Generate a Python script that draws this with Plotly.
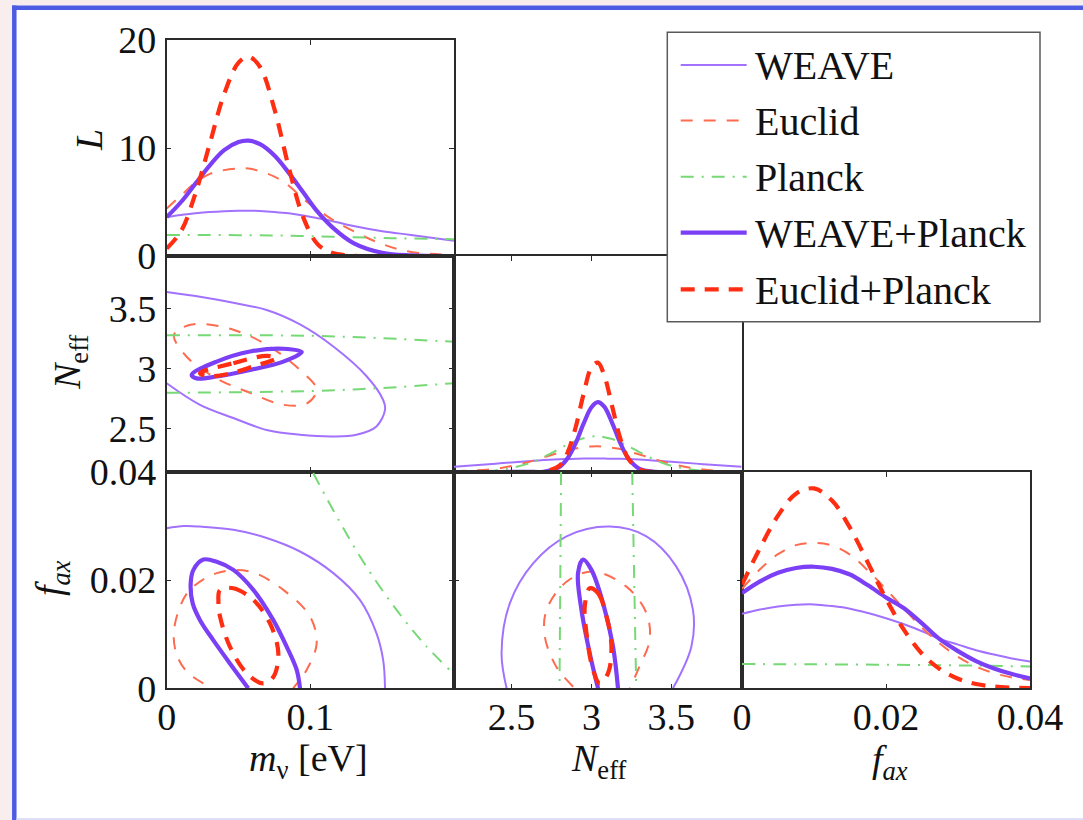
import plotly.graph_objects as go

# ---------------------------------------------------------------- data ----
# 1-D likelihood of the neutrino mass
mnu_grid = [0, 0.01, 0.02, 0.03, 0.04, 0.05, 0.057, 0.065, 0.075, 0.085,
            0.095, 0.105, 0.115, 0.13, 0.15, 0.17, 0.2]
L_mnu_weave = [3.6, 3.8, 3.95, 4.07, 4.15, 4.19, 4.2, 4.17, 4.08, 3.95,
               3.75, 3.5, 3.25, 2.78, 2.3, 1.95, 1.42]
L_mnu_euclid = [4.4, 5.6, 6.8, 7.6, 7.95, 8.1, 8.1, 7.85, 7.35, 6.5,
                5.3, 4.3, 3.4, 2.3, 1.1, 0.38, 0.1]
L_mnu_planck = [1.95, 1.95, 1.95, 1.94, 1.94, 1.93, 1.93, 1.92, 1.9, 1.88,
                1.85, 1.82, 1.79, 1.74, 1.67, 1.62, 1.55]
L_mnu_weave_planck = [3.6, 5.0, 6.7, 8.4, 9.8, 10.55, 10.68, 10.35, 9.3, 7.7,
                      5.9, 4.1, 2.7, 1.2, 0.3, 0.05, 0.0]
L_mnu_euclid_planck = [0.7, 2.3, 5.8, 10.4, 15.0, 17.9, 18.45, 17.5, 13.6, 8.2,
                       3.6, 1.1, 0.3, 0.02, 0.0, 0.0, 0.0]

# 1-D likelihood of N_eff (arbitrary normalisation)
neff_grid = [2.14, 2.4, 2.6, 2.7, 2.8, 2.85, 2.9, 2.95, 3.0, 3.04, 3.08,
             3.13, 3.18, 3.23, 3.3, 3.4, 3.5, 3.7, 3.94]
L_neff_weave = [0.19, 0.31, 0.40, 0.44, 0.47, 0.48, 0.49, 0.5, 0.5, 0.5, 0.5,
                0.49, 0.49, 0.48, 0.46, 0.42, 0.38, 0.29, 0.19]
L_neff_euclid = [0.03, 0.12, 0.36, 0.54, 0.72, 0.80, 0.87, 0.92, 0.945, 0.95,
                 0.94, 0.90, 0.85, 0.77, 0.65, 0.47, 0.30, 0.09, 0.013]
L_neff_planck = [0.0, 0.06, 0.30, 0.55, 0.86, 1.02, 1.15, 1.25, 1.31, 1.32,
                 1.29, 1.22, 1.10, 0.96, 0.74, 0.44, 0.23, 0.04, 0.0]
L_neff_weave_planck = [0.0, 0.0, 0.01, 0.01, 0.19, 0.5, 1.05, 1.78, 2.40, 2.59,
                       2.42, 1.81, 1.08, 0.51, 0.12, 0.01, 0.0, 0.0, 0.0]
L_neff_euclid_planck = [0.0, 0.0, 0.0, 0.01, 0.24, 0.71, 1.63, 2.87, 3.87, 4.05,
                        3.58, 2.42, 1.25, 0.50, 0.09, 0.0, 0.0, 0.0, 0.0]

# 1-D likelihood of f_ax (arbitrary normalisation)
fax_grid = [0, 0.0025, 0.005, 0.0075, 0.01, 0.0125, 0.015, 0.0175, 0.02,
            0.0225, 0.025, 0.0275, 0.03, 0.0325, 0.035, 0.0375, 0.04]
L_fax_weave = [17.2, 18.2, 18.9, 19.3, 19.4, 19.0, 18.4, 17.4, 16.2,
               14.8, 13.2, 11.4, 10.1, 8.8, 7.8, 6.9, 6.2]
L_fax_euclid = [23.0, 27.5, 31.0, 33.1, 33.6, 33.0, 30.9, 27.2, 22.9,
                18.4, 14.0, 10.3, 7.3, 5.0, 3.5, 2.5, 1.9]
fax_planck = [0, 0.01, 0.02, 0.03, 0.04]
L_fax_planck = [5.6, 5.55, 5.45, 5.3, 5.05]
L_fax_weave_planck = [22.0, 24.7, 26.7, 27.8, 28.1, 27.6, 26.3, 23.8, 21.0,
                      18.5, 15.0, 11.3, 8.6, 6.3, 4.6, 3.3, 2.3]
L_fax_euclid_planck = [24.0, 32.4, 39.9, 45.0, 46.2, 43.4, 37.1, 29.0, 20.7,
                       13.5, 8.0, 4.4, 2.2, 1.0, 0.4, 0.15, 0.05]

# 68% contours in the (m_nu, N_eff) plane
c_mn_weave_m = [0, 0.0232, 0.0464, 0.0696, 0.0928, 0.116, 0.139, 0.1507, 0.152,
                0.146, 0.132, 0.116, 0.0928, 0.0696, 0.0464, 0.0232, 0]
c_mn_weave_n = [3.64, 3.60, 3.55, 3.49, 3.37, 3.186, 2.94, 2.74, 2.66,
                2.52, 2.45, 2.436, 2.45, 2.49, 2.59, 2.70, 2.88]
c_mn_euclid_m = [0.005, 0.012, 0.0232, 0.0464, 0.0696, 0.0928, 0.1044, 0.0974,
                 0.0812, 0.058, 0.0348, 0.0139, 0.005]
c_mn_euclid_n = [3.28, 3.35, 3.375, 3.325, 3.20, 2.99, 2.825, 2.71,
                 2.70, 2.80, 2.92, 3.10, 3.28]
c_mn_planck_m = [0, 0.1, 0.15, 0.2, None, 0, 0.1, 0.15, 0.2]
c_mn_planck_n = [3.28, 3.275, 3.255, 3.225, None, 2.80, 2.815, 2.84, 2.88]
c_mn_wp_m = [0.0174, 0.0348, 0.058, 0.0812, 0.094, 0.0812, 0.058, 0.0348,
             0.0209, 0.0174]
c_mn_wp_n = [2.95, 3.06, 3.144, 3.167, 3.14, 3.06, 2.99, 2.936, 2.92, 2.95]
c_mn_ep_m = [0.0232, 0.0464, 0.0696, 0.0766, 0.0603, 0.0418, 0.0278, 0.0232]
c_mn_ep_n = [2.964, 3.047, 3.108, 3.09, 3.02, 2.955, 2.94, 2.964]

# 68% contours in the (m_nu, f_ax) plane
c_mf_weave_m = [0, 0.012, 0.0232, 0.0464, 0.0696, 0.0928, 0.116, 0.1345,
                0.146, 0.1507, 0.152]
c_mf_weave_f = [0.0296, 0.0300, 0.0299, 0.0293, 0.0278, 0.0253, 0.0213,
                0.01635, 0.0102, 0.0052, 0.0]
c_mf_euclid_m = [0.0255, 0.0139, 0.007, 0.0049, 0.0093, 0.0162, 0.0348,
                 0.058, 0.0812, 0.0997, 0.1044, 0.0974, 0.088]
c_mf_euclid_f = [0.0009, 0.0031, 0.0062, 0.0102, 0.0151, 0.0182, 0.0213,
                 0.0216, 0.0182, 0.0133, 0.0083, 0.0034, 0.0]
c_mf_planck_m = [0.102, 0.12, 0.139, 0.16, 0.18, 0.197]
c_mf_planck_f = [0.0398, 0.0310, 0.0225, 0.0145, 0.0080, 0.0034]
c_mf_wp_m = [0.0568, 0.044, 0.0324, 0.0232, 0.0181, 0.0167, 0.0186, 0.0255,
             0.0348, 0.0464, 0.0603, 0.0742, 0.0835, 0.0905, 0.0928]
c_mf_wp_f = [0.0, 0.0046, 0.0089, 0.0126, 0.0157, 0.0194, 0.0219, 0.0238,
             0.0234, 0.0219, 0.0182, 0.0126, 0.0077, 0.0034, 0.0]
c_mf_ep_m = [0.0371, 0.0464, 0.0603, 0.0719, 0.0777, 0.0742, 0.0672, 0.0557,
             0.044, 0.0371, 0.036, 0.0371]
c_mf_ep_f = [0.0182, 0.0185, 0.01635, 0.012, 0.0065, 0.0021, 0.0009, 0.0028,
             0.0077, 0.0133, 0.016, 0.0182]

# 68% contours in the (N_eff, f_ax) plane
c_nf_weave_n = [2.469, 2.4375, 2.489, 2.635, 2.844, 3.114, 3.344, 3.531,
                3.635, 3.625, 3.51]
c_nf_weave_f = [0.0, 0.0065, 0.0157, 0.0231, 0.0281, 0.0299, 0.0281, 0.0225,
                0.0145, 0.0077, 0.0]
c_nf_euclid_n = [2.885, 2.78, 2.708, 2.719, 2.844, 3.01, 3.219, 3.344, 3.364,
                 3.30, 3.24]
c_nf_euclid_f = [0.0003, 0.004, 0.0096, 0.0145, 0.0197, 0.0216, 0.0188,
                 0.0139, 0.0089, 0.004, 0.0]
c_nf_planck_n = [2.81, 2.80, None, 3.255, 3.28]
c_nf_planck_f = [0.04, 0.0, None, 0.04, 0.0]
c_nf_wp_n = [3.041, 2.989, 2.9375, 2.916, 2.948, 3.0, 3.073, 3.135, 3.166]
c_nf_wp_f = [0.0, 0.0065, 0.0145, 0.0213, 0.0238, 0.0219, 0.0157, 0.0077, 0.0]
c_nf_ep_n = [2.989, 3.041, 3.094, 3.125, 3.104, 3.052, 3.01, 2.969, 2.958,
             2.989]
c_nf_ep_f = [0.0185, 0.0176, 0.0133, 0.0077, 0.0028, 0.0009, 0.0034, 0.0102,
             0.0151, 0.0185]

series_names = ["WEAVE", "Euclid", "Planck", "WEAVE+Planck", "Euclid+Planck"]

# ------------------------------------------------------------- styling ----
STYLE = {
    "WEAVE": dict(color="#a272ff", width=2.0, dash="solid"),
    "Euclid": dict(color="#ff6b4f", width=2.0, dash="12px,11px"),
    "Planck": dict(color="#76d976", width=2.0, dash="13px,8px,2px,8px"),
    "WEAVE+Planck": dict(color="#7b3ff5", width=4.2, dash="solid"),
    "Euclid+Planck": dict(color="#ff2e12", width=4.2, dash="14px,10px"),
}

W, H = 1083, 820
SERIF = "Liberation Serif"
AXIS_COLOR = "#2a2a2a"
TICK_FONT = dict(family=SERIF, size=38, color="#111")


def fx(px):
    return px / W


def fy(py):
    return 1 - py / H


COLS = [(166.7, 454.0), (454.0, 741.7), (742.0, 1030.0)]
ROWS = [(40.0, 256.0), (256.0, 472.0), (472.0, 688.3)]

fig = go.Figure()


def add_curve(name, x, y, axis_idx):
    s = STYLE[name]
    suffix = "" if axis_idx == 1 else str(axis_idx)
    fig.add_trace(go.Scatter(
        x=x, y=y, mode="lines", name=name, showlegend=False,
        xaxis="x" + suffix, yaxis="y" + suffix,
        line=dict(color=s["color"], width=s["width"], dash=s["dash"],
                  shape="spline", smoothing=1.0),
        connectgaps=False, hoverinfo="skip",
    ))


# panel 1: L(m_nu)
for nm, yy in zip(series_names, [L_mnu_weave, L_mnu_euclid, L_mnu_planck,
                                 L_mnu_weave_planck, L_mnu_euclid_planck]):
    add_curve(nm, mnu_grid, yy, 1)

# panel 2: (m_nu, N_eff)
for nm, xx, yy in zip(series_names,
                      [c_mn_weave_m, c_mn_euclid_m, c_mn_planck_m, c_mn_wp_m, c_mn_ep_m],
                      [c_mn_weave_n, c_mn_euclid_n, c_mn_planck_n, c_mn_wp_n, c_mn_ep_n]):
    add_curve(nm, xx, yy, 2)

# panel 3: L(N_eff)
for nm, yy in zip(series_names, [L_neff_weave, L_neff_euclid, L_neff_planck,
                                 L_neff_weave_planck, L_neff_euclid_planck]):
    add_curve(nm, neff_grid, yy, 3)

# panel 4: (m_nu, f_ax)
for nm, xx, yy in zip(series_names,
                      [c_mf_weave_m, c_mf_euclid_m, c_mf_planck_m, c_mf_wp_m, c_mf_ep_m],
                      [c_mf_weave_f, c_mf_euclid_f, c_mf_planck_f, c_mf_wp_f, c_mf_ep_f]):
    add_curve(nm, xx, yy, 4)

# panel 5: (N_eff, f_ax)
for nm, xx, yy in zip(series_names,
                      [c_nf_weave_n, c_nf_euclid_n, c_nf_planck_n, c_nf_wp_n, c_nf_ep_n],
                      [c_nf_weave_f, c_nf_euclid_f, c_nf_planck_f, c_nf_wp_f, c_nf_ep_f]):
    add_curve(nm, xx, yy, 5)

# panel 6: L(f_ax)
for nm, xx, yy in zip(series_names,
                      [fax_grid, fax_grid, fax_planck, fax_grid, fax_grid],
                      [L_fax_weave, L_fax_euclid, L_fax_planck,
                       L_fax_weave_planck, L_fax_euclid_planck]):
    add_curve(nm, xx, yy, 6)


def axis(domain, rng, anchor, tickvals=None, ticktext=None, labels=True,
         ticks=True, is_x=True):
    d = dict(
        domain=domain, range=rng, anchor=anchor, showgrid=False, zeroline=False,
        showline=True, linecolor=AXIS_COLOR, linewidth=1.5,
        mirror="ticks" if ticks else True,
        ticks="inside" if ticks else "", ticklen=5, tickwidth=1.2,
        tickcolor=AXIS_COLOR, tickfont=TICK_FONT, showticklabels=labels,
        fixedrange=True, automargin=False,
    )
    if tickvals is not None:
        d["tickmode"] = "array"
        d["tickvals"] = tickvals
        d["ticktext"] = ticktext if ticktext is not None else [str(v) for v in tickvals]
    d["ticklabelstandoff"] = -6 if is_x else 1
    return d


xd = [[fx(a), fx(b)] for a, b in COLS]
yd = [[fy(b), fy(a)] for a, b in ROWS]

MNU_RANGE = [0, 0.2]
NEFF_RANGE = [2.14, 3.94]
FAX_RANGE = [0, 0.04]

layout_axes = {
    # panel 1
    "xaxis": axis(xd[0], MNU_RANGE, "y", [0, 0.1, 0.2], labels=False),
    "yaxis": axis(yd[0], [0, 20], "x", [0, 10, 20], ["0", "10", "20"], is_x=False),
    # panel 2
    "xaxis2": axis(xd[0], MNU_RANGE, "y2", [0, 0.1, 0.2], labels=False),
    "yaxis2": axis(yd[1], NEFF_RANGE, "x2", [2.5, 3, 3.5], ["2.5", "3", "3.5"], is_x=False),
    # panel 3
    "xaxis3": axis(xd[1], NEFF_RANGE, "y3", [2.5, 3, 3.5], labels=False),
    "yaxis3": axis(yd[1], [0, 8], "x3", labels=False, ticks=False, is_x=False),
    # panel 4
    "xaxis4": axis(xd[0], MNU_RANGE, "y4", [0, 0.1], ["0", "0.1"]),
    "yaxis4": axis(yd[2], FAX_RANGE, "x4", [0, 0.02, 0.04], ["0", "0.02", "0.04"], is_x=False),
    # panel 5
    "xaxis5": axis(xd[1], NEFF_RANGE, "y5", [2.5, 3, 3.5], ["2.5", "3", "3.5"]),
    "yaxis5": axis(yd[2], FAX_RANGE, "x5", [0, 0.02, 0.04], labels=False, is_x=False),
    # panel 6
    "xaxis6": axis(xd[2], FAX_RANGE, "y6", [0, 0.02, 0.04], ["0", "0.02", "0.04"]),
    "yaxis6": axis(yd[2], [0, 50], "x6", labels=False, ticks=False, is_x=False),
}

shapes = []
annotations = []

# slide frame
FRAME_BLUE = "#4c5de3"
shapes.append(dict(type="rect", xref="paper", yref="paper", x0=0, x1=fx(12),
                   y0=0, y1=1, fillcolor="#f8eeee", line=dict(width=0), layer="below"))
shapes.append(dict(type="rect", xref="paper", yref="paper", x0=0, x1=1,
                   y0=fy(5.5), y1=1, fillcolor="#f8eeee", line=dict(width=0), layer="below"))
shapes.append(dict(type="line", xref="paper", yref="paper", x0=fx(14.3), x1=fx(14.3),
                   y0=fy(5.6), y1=0, line=dict(color=FRAME_BLUE, width=4.5)))
shapes.append(dict(type="line", xref="paper", yref="paper", x0=fx(12), x1=1,
                   y0=fy(7.8), y1=fy(7.8), line=dict(color=FRAME_BLUE, width=4.5)))
shapes.append(dict(type="line", xref="paper", yref="paper", x0=fx(16.5), x1=1,
                   y0=fy(819), y1=fy(819), line=dict(color="#dfe0f7", width=2)))

# legend box
LEG = dict(x0=667.3, x1=1040.0, y0=32.3, y1=321.7)
shapes.append(dict(type="rect", xref="paper", yref="paper",
                   x0=fx(LEG["x0"]), x1=fx(LEG["x1"]),
                   y0=fy(LEG["y1"]), y1=fy(LEG["y0"]),
                   fillcolor="white", line=dict(color="#5a5a5a", width=1.5),
                   layer="above"))
legend_rows = [65.0, 120.5, 176.7, 232.7, 289.3]
for nm, ry in zip(series_names, legend_rows):
    s = STYLE[nm]
    shapes.append(dict(type="line", xref="paper", yref="paper",
                       x0=fx(680.7), x1=fx(746.7), y0=fy(ry), y1=fy(ry),
                       line=dict(color=s["color"], width=s["width"], dash=s["dash"]),
                       layer="above"))
    annotations.append(dict(text=nm, xref="paper", yref="paper", x=fx(753),
                            y=fy(ry + 1), xanchor="left", yanchor="middle",
                            showarrow=False,
                            font=dict(family=SERIF, size=40, color="#111")))

# axis titles
TITLE_FONT = dict(family=SERIF, size=38, color="#111")
titles = [
    ("<i>L</i>", 89, 140, -90),
    ("<i>N</i><sub>eff</sub>", 70, 362, -90),
    ("<i>f</i><sub><i>ax</i></sub>", 52, 578, -90),
    ("<i>m</i><sub>ν</sub> [eV]", 308, 761, 0),
    ("<i>N</i><sub>eff</sub>", 599, 761, 0),
    ("<i>f</i><sub><i>ax</i></sub>", 890, 762, 0),
]
for txt, tx, ty, ang in titles:
    annotations.append(dict(text=txt, xref="paper", yref="paper", x=fx(tx), y=fy(ty),
                            xanchor="center", yanchor="middle", showarrow=False,
                            textangle=ang, font=TITLE_FONT))

fig.update_layout(
    width=W, height=H, margin=dict(l=0, r=0, t=0, b=0, pad=0),
    paper_bgcolor="white", plot_bgcolor="white", showlegend=False,
    shapes=shapes, annotations=annotations, **layout_axes,
)

fig.write_html("out.html")
